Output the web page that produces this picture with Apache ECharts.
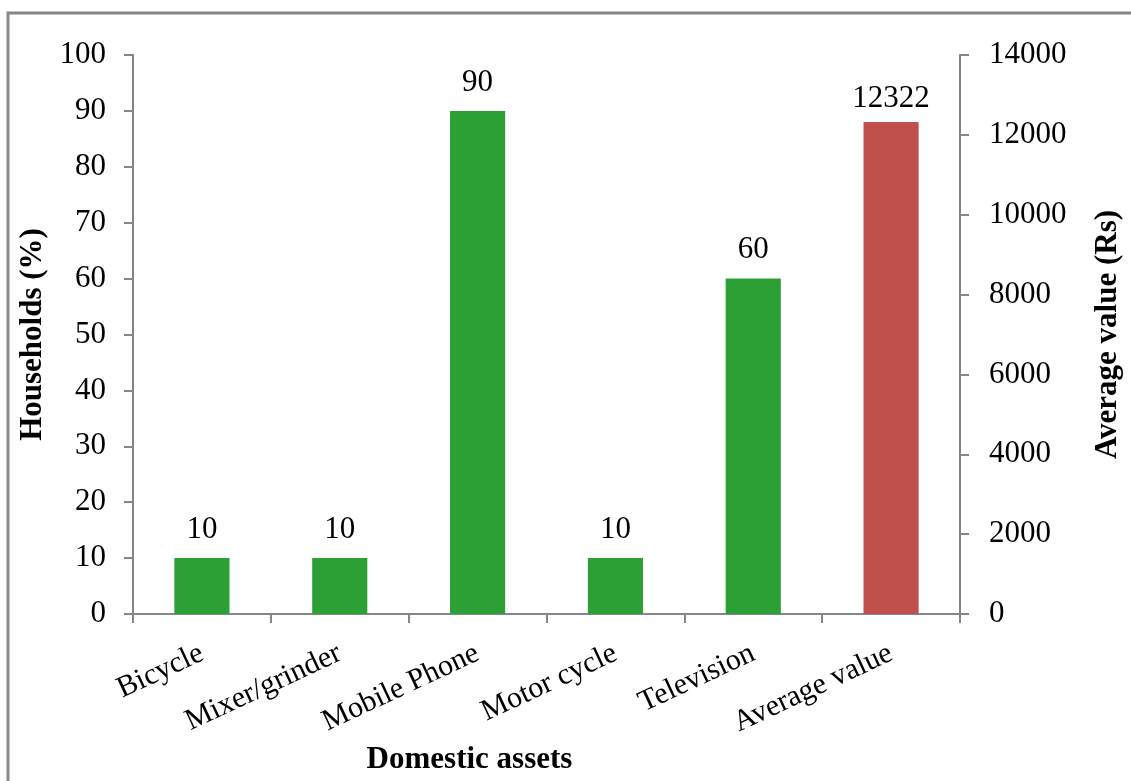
<!DOCTYPE html>
<html>
<head>
<meta charset="utf-8">
<style>
  html, body { margin: 0; padding: 0; background: #fff; }
  #chart { width: 1131px; height: 781px; }
</style>
<script src="https://cdn.jsdelivr.net/npm/echarts@6/dist/echarts.min.js"></script>
</head>
<body>
<div id="chart"></div>
<script>
// Asset categories along the horizontal axis
const categories = ['Bicycle', 'Mixer/grinder', 'Mobile Phone', 'Motor cycle', 'Television', 'Average value'];
// Share of households owning each asset (%), left axis
const householdShare = [10, 10, 90, 10, 60, '-'];
// Average value of assets (Rs), right axis
const averageValue = ['-', '-', '-', '-', '-', 12322];

const FONT = '"Liberation Serif", "Times New Roman", serif';
const AXIS_GREY = '#868686';

const chart = echarts.init(document.getElementById('chart'), null, { renderer: 'canvas' });

function barLabel(distance) {
  return {
    show: true,
    position: 'top',
    distance: distance,
    color: '#000',
    fontFamily: FONT,
    fontSize: 31
  };
}

const titleStyle = { fontFamily: FONT, fontSize: 31, fontWeight: 'bold', color: '#000' };

chart.setOption({
  animation: false,
  backgroundColor: '#fff',
  graphic: [{
    type: 'rect',
    shape: { x: 8, y: 13, width: 1300, height: 900 },
    style: { fill: 'none', stroke: AXIS_GREY, lineWidth: 3 },
    silent: true
  }],
  grid: { left: 133, right: 166, top: 55, bottom: 167, containLabel: false },
  xAxis: {
    type: 'category',
    data: categories,
    name: 'Domestic assets',
    nameLocation: 'middle',
    nameGap: 122,
    nameTextStyle: Object.assign({ padding: [0, 154, 0, 0] }, titleStyle),
    axisLine: { lineStyle: { color: AXIS_GREY, width: 2 } },
    axisTick: { show: true, alignWithLabel: false, length: 9, lineStyle: { color: AXIS_GREY, width: 2 } },
    axisLabel: {
      rotate: 25,
      margin: 38,
      color: '#000',
      fontFamily: FONT,
      fontSize: 30,
      interval: 0
    }
  },
  yAxis: [{
    type: 'value',
    min: 0, max: 100, interval: 10,
    name: 'Households (%)',
    nameLocation: 'middle',
    nameRotate: 90,
    nameGap: 84,
    nameTextStyle: titleStyle,
    splitLine: { show: false },
    axisLine: { show: true, lineStyle: { color: AXIS_GREY, width: 2 } },
    axisTick: { show: true, length: 9, lineStyle: { color: AXIS_GREY, width: 2 } },
    axisLabel: { margin: 27, color: '#000', fontFamily: FONT, fontSize: 31 }
  }, {
    type: 'value',
    position: 'right',
    min: 0, max: 14000, interval: 2000,
    name: 'Average value (Rs)',
    nameLocation: 'middle',
    nameRotate: 90,
    nameGap: 132,
    nameTextStyle: titleStyle,
    splitLine: { show: false },
    axisLine: { show: true, lineStyle: { color: AXIS_GREY, width: 2 } },
    axisTick: { show: true, length: 9, lineStyle: { color: AXIS_GREY, width: 2 } },
    axisLabel: {
      margin: 29, color: '#000', fontFamily: FONT, fontSize: 31,
      formatter: function (v) { return String(v); }
    }
  }],
  series: [{
    name: 'Households (%)',
    type: 'bar',
    yAxisIndex: 0,
    data: householdShare,
    barWidth: '40%',
    barGap: '-100%',
    itemStyle: { color: '#2ca035' },
    label: barLabel(13)
  }, {
    name: 'Average value (Rs)',
    type: 'bar',
    yAxisIndex: 1,
    data: averageValue,
    barWidth: '40%',
    barGap: '-100%',
    itemStyle: { color: '#c0504d' },
    label: barLabel(8)
  }]
});
</script>
</body>
</html>
